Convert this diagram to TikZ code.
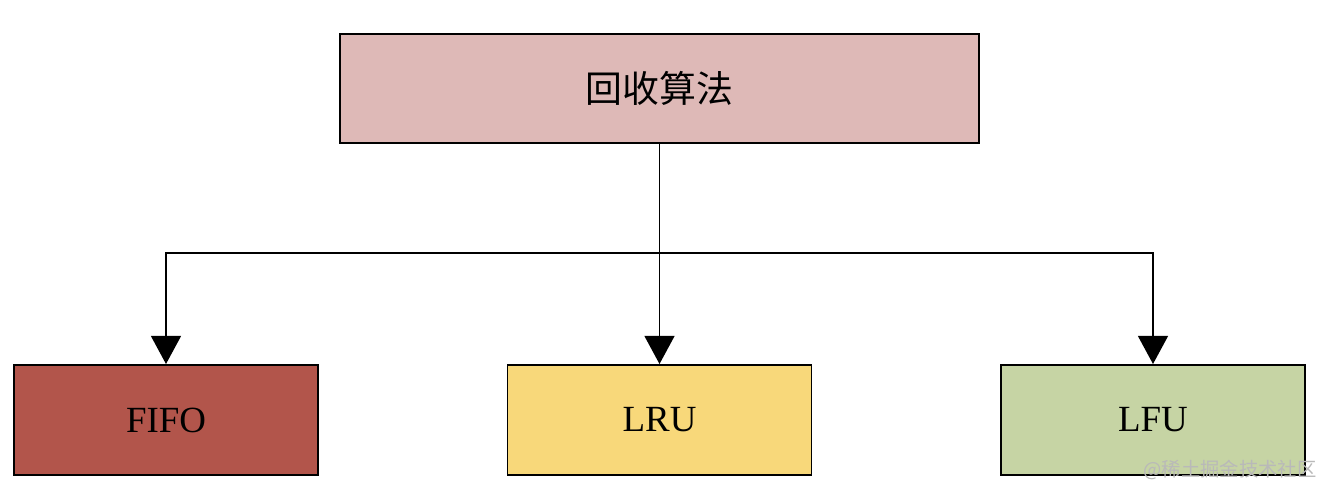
\documentclass[tikz,border=0pt]{standalone}
\usepackage{fontspec}
\setmainfont{Liberation Serif}
\newfontfamily\cjk{Noto Sans CJK SC}
\usetikzlibrary{arrows.meta}

\definecolor{topfill}{RGB}{222,185,183}
\definecolor{fifofill}{RGB}{178,85,75}
\definecolor{lrufill}{RGB}{248,216,122}
\definecolor{lfufill}{RGB}{198,212,164}

\tikzset{
  algobox/.style={draw=black, line width=1.1pt, inner sep=0pt,
    minimum width=6.08cm, minimum height=2.2cm, font=\fontsize{21}{24}\selectfont},
  link/.style={line width=1.1pt, -{Triangle[length=16pt,width=17pt]}}
}

\begin{document}
\begin{tikzpicture}
    \useasboundingbox (0,0) rectangle (26.52,10);
    \node [draw=black, line width=1.1pt, fill=topfill, minimum width=12.78cm,
      minimum height=2.18cm, font=\cjk\fontsize{21}{24}\selectfont] (algo) at (13.19,8.23) {回收算法};
    \node [algobox, fill=fifofill] (fifo) at (3.32,1.6) {FIFO};
    \node [algobox, fill=lrufill] (lru) at (13.19,1.6) {LRU};
    \node [algobox, fill=lfufill] (lfu) at (23.06,1.6) {LFU};
    \coordinate (split) at (13.19,4.94);
    \draw [link] (algo.south) -- (lru.north);
    \draw [link] (split) -| (fifo.north);
    \draw [link] (split) -| (lfu.north);
    \node [text=gray!55, font=\cjk\fontsize{11}{13}\selectfont] (mark) at (24.6,0.6) {@稀土掘金技术社区};
\end{tikzpicture}
\end{document}
